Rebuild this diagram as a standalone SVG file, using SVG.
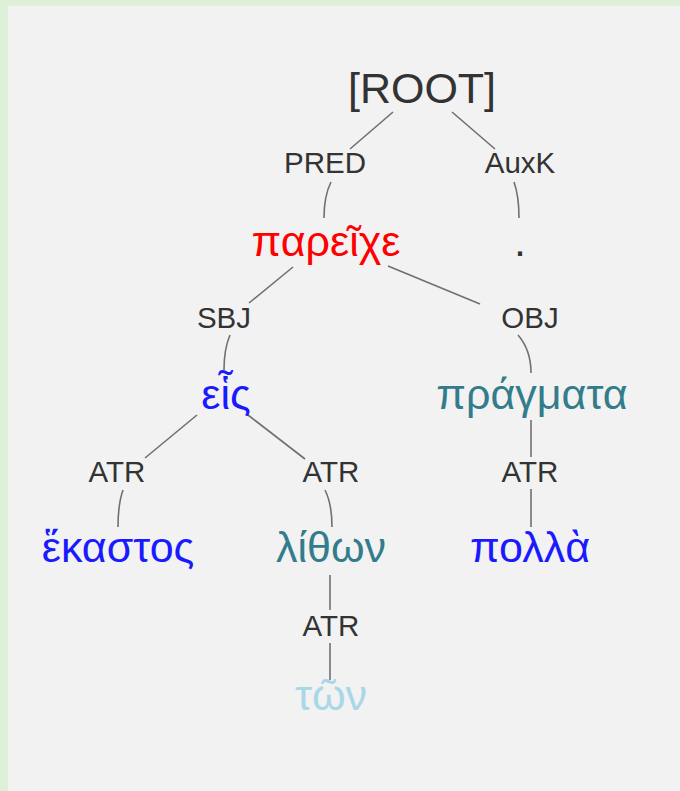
<svg xmlns="http://www.w3.org/2000/svg" width="680" height="791" viewBox="0 0 680 791">
<style>
text{font-family:"Liberation Sans",Arial,sans-serif;text-anchor:middle}
.lbl{font-size:29.5px;fill:#333}
.w{font-size:43px}
.root{font-size:43px;fill:#333}
.red{fill:#ff0000}
.blue{fill:#1a1aff}
.teal{fill:#337c8b}
.lb{fill:#a8d8e8}
#edges path{fill:none;stroke:#707070;stroke-width:1.6}
</style>
<rect x="0" y="0" width="680" height="791" fill="#dff0d8"/>
<rect x="8" y="6" width="672" height="785" fill="#f2f2f2"/>
<g id="edges">
<path d="M393,112 L350,149"/>
<path d="M452,112 L495,149"/>
<path d="M331,182 Q324,196 324,218"/>
<path d="M514,182 Q519,196 519,218"/>
<path d="M293,267 L249,303"/>
<path d="M388,266 L480,304"/>
<path d="M230,335 Q224,349 224,370"/>
<path d="M518,335 Q531,350 531,373"/>
<path d="M197,415 L145,458"/>
<path d="M248,415 L305,459"/>
<path d="M531,420 L531,457"/>
<path d="M123,490 Q118,504 118,527"/>
<path d="M325,490 Q332,504 332,527"/>
<path d="M531,489 L531,527"/>
<path d="M330,575 L330,610"/>
<path d="M330,643 L330,680"/>
</g>
<g id="n-root"><text class="root" x="422" y="103">[ROOT]</text></g>
<g id="l-pred"><text class="lbl" x="325" y="173">PRED</text></g>
<g id="l-auxk"><text class="lbl" x="520" y="173">AuxK</text></g>
<g id="n-pareiche"><text class="w red" x="326" y="256">παρεῖχε</text></g>
<g id="n-period"><text class="w" x="520" y="256" fill="#333">.</text></g>
<g id="l-sbj"><text class="lbl" x="224" y="328">SBJ</text></g>
<g id="l-obj"><text class="lbl" x="530" y="328">OBJ</text></g>
<g id="n-heis"><text class="w blue" x="226" y="409">εἷς</text></g>
<g id="n-pragmata"><text class="w teal" x="532" y="409">πράγματα</text></g>
<g id="l-atr1"><text class="lbl" x="117" y="482">ATR</text></g>
<g id="l-atr2"><text class="lbl" x="331" y="482">ATR</text></g>
<g id="l-atr3"><text class="lbl" x="530" y="482">ATR</text></g>
<g id="n-hekastos"><text class="w blue" x="118" y="562">ἕκαστος</text></g>
<g id="n-lithon"><text class="w teal" x="331" y="562">λίθων</text></g>
<g id="n-polla"><text class="w blue" x="530" y="562">πολλὰ</text></g>
<g id="l-atr4"><text class="lbl" x="331" y="636">ATR</text></g>
<g id="n-ton"><text class="w lb" x="331" y="710">τῶν</text></g>
</svg>
